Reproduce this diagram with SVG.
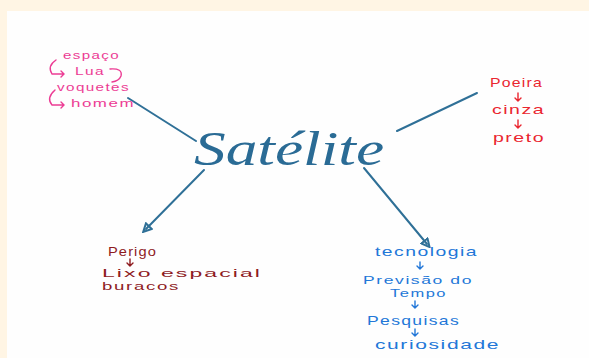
<svg xmlns="http://www.w3.org/2000/svg" width="589" height="358" viewBox="0 0 589 358">
<style>
.h{font-family:"Liberation Sans","Open Sans",sans-serif;font-size:13px;letter-spacing:1px}
.s{font-size:11px}
.pink{fill:#ec3c94}
.red{fill:#ea2630}
.dred{fill:#8e1b1f}
.blue{fill:#2277d8}
.pk{stroke:#ec3c94;fill:none;stroke-width:1.4;stroke-linecap:round}
.rk{stroke:#ea2630;fill:none;stroke-width:1.4;stroke-linecap:round}
.dk{stroke:#8e1b1f;fill:none;stroke-width:1.4;stroke-linecap:round}
.bk{stroke:#2277d8;fill:none;stroke-width:1.4;stroke-linecap:round}
.conn{stroke:#2f7097;stroke-width:2;fill:none;stroke-linecap:round}
</style>
<defs>
<marker id="ah" viewBox="0 0 10 10" refX="5" refY="5" markerWidth="5" markerHeight="5" orient="auto">
<path d="M1,1 L9,5 L1,9 Z" fill="none" stroke="#2f7097" stroke-width="2"/>
</marker>
</defs>
<rect width="589" height="358" fill="#fff5e4"/>
<rect x="7" y="11" width="582" height="347" fill="#fefefe"/>
<g id="connectors">
<path class="conn" d="M128,98 L196,141"/>
<path class="conn" d="M397,131 L477,93"/>
<path class="conn" d="M204,170 L146,229" marker-end="url(#ah)"/>
<path class="conn" d="M364,168 L427,244" marker-end="url(#ah)"/>
</g>
<g id="center">
<text x="194" y="165" font-family="'Liberation Serif','DejaVu Serif',serif" font-style="italic" font-size="48" fill="#2a6b95" textLength="190" lengthAdjust="spacingAndGlyphs">Satélite</text>
</g>
<g id="espaco">
<text class="h s pink" x="63" y="59" textLength="57" lengthAdjust="spacingAndGlyphs">espaço</text>
<text class="h s pink" x="75" y="75" textLength="30" lengthAdjust="spacingAndGlyphs">Lua</text>
<text class="h s pink" x="57" y="91" textLength="73" lengthAdjust="spacingAndGlyphs">voquetes</text>
<text class="h s pink" x="71" y="107" textLength="64" lengthAdjust="spacingAndGlyphs">homem</text>
<path class="pk" d="M56,60 Q47,66 52,74 L64,74 M61,71 L64,74 L61,77"/>
<path class="pk" d="M110,69 Q123,68 121,76 Q119,81 112,82"/>
<path class="pk" d="M55,90 Q46,98 52,105 L64,105 M61,102 L64,105 L61,108"/>
</g>
<g id="poeira">
<text class="h red" x="490" y="87" textLength="53" lengthAdjust="spacingAndGlyphs">Poeira</text>
<path class="rk" d="M518,93 L518,101 M515,98 L518,101 L521,98"/>
<text class="h red" x="492" y="114" textLength="53" lengthAdjust="spacingAndGlyphs">cinza</text>
<path class="rk" d="M518,120 L518,128 M515,125 L518,128 L521,125"/>
<text class="h red" x="493" y="142" textLength="52" lengthAdjust="spacingAndGlyphs">preto</text>
</g>
<g id="perigo">
<text class="h dred" x="108" y="256" textLength="49" lengthAdjust="spacingAndGlyphs">Perigo</text>
<path class="dk" d="M130,259 L130,266 M127,263 L130,266 L133,263"/>
<text class="h s dred" x="102" y="277" textLength="160" lengthAdjust="spacingAndGlyphs">Lixo espacial</text>
<text class="h s dred" x="102" y="290" textLength="78" lengthAdjust="spacingAndGlyphs">buracos</text>
</g>
<g id="tecnologia">
<text class="h blue" x="375" y="256" textLength="103" lengthAdjust="spacingAndGlyphs">tecnologia</text>
<path class="bk" d="M420,262 L420,269 M417,266 L420,269 L423,266"/>
<text class="h s blue" x="363" y="284" textLength="110" lengthAdjust="spacingAndGlyphs">Previsão do</text>
<text class="h s blue" x="390" y="297" textLength="57" lengthAdjust="spacingAndGlyphs">Tempo</text>
<path class="bk" d="M415,301 L415,308 M412,305 L415,308 L418,305"/>
<text class="h blue" x="367" y="325" textLength="93" lengthAdjust="spacingAndGlyphs">Pesquisas</text>
<path class="bk" d="M415,329 L415,336 M412,333 L415,336 L418,333"/>
<text class="h blue" x="375" y="349" textLength="125" lengthAdjust="spacingAndGlyphs">curiosidade</text>
</g>
</svg>
